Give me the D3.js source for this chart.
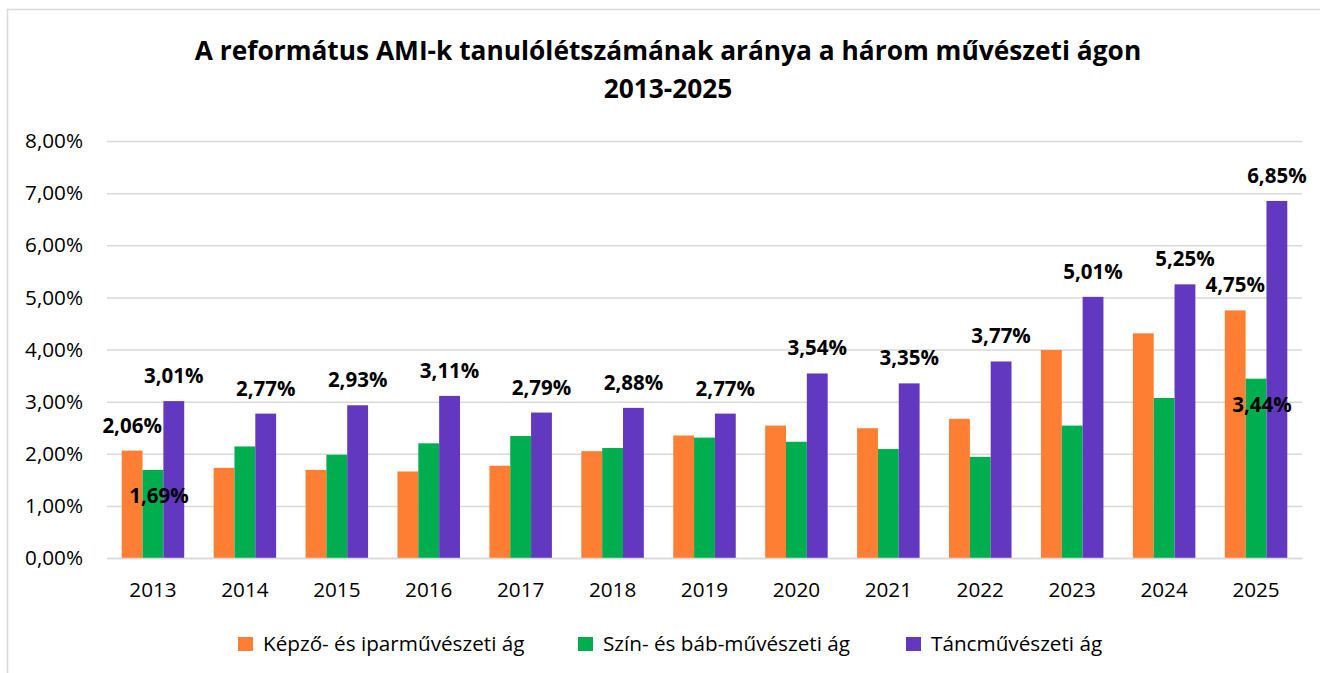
<!DOCTYPE html>
<html>
<head>
<meta charset="utf-8">
<script src="https://cdn.jsdelivr.net/npm/d3@7"></script>
<style>
  body { margin: 0; background: #fff; }
  svg { display: block; font-family: "Open Sans", sans-serif; }
</style>
</head>
<body>
<svg id="chart" width="1320" height="673"></svg>
<script>
// chart data
const years = ['2013', '2014', '2015', '2016', '2017', '2018', '2019', '2020', '2021', '2022', '2023', '2024', '2025'];
const kepzo = [2.06, 1.73, 1.69, 1.66, 1.77, 2.05, 2.35, 2.54, 2.49, 2.67, 3.99, 4.31, 4.75];
const szin = [1.69, 2.14, 1.98, 2.20, 2.34, 2.11, 2.31, 2.23, 2.09, 1.94, 2.54, 3.07, 3.44];
const tanc = [3.01, 2.77, 2.93, 3.11, 2.79, 2.88, 2.77, 3.54, 3.35, 3.77, 5.01, 5.25, 6.85];
const seriesNames = ['Képző- és iparművészeti ág', 'Szín- és báb-művészeti ág', 'Táncművészeti ág'];
// which years carry a data label in each series
const kepzoLabeled = ['2013', '2025'];
const szinLabeled = ['2013', '2025'];
const tancLabeled = years;
const yTicks = [0, 1, 2, 3, 4, 5, 6, 7, 8];
const titleLines = ['A református AMI-k tanulólétszámának aránya a három művészeti ágon', '2013-2025'];

const colors = ['#fe7f34', '#00ae50', '#6138bf'];
const series = [
  { name: seriesNames[0], values: kepzo, labeled: kepzoLabeled, color: colors[0], inside: false },
  { name: seriesNames[1], values: szin, labeled: szinLabeled, color: colors[1], inside: true },
  { name: seriesNames[2], values: tanc, labeled: tancLabeled, color: colors[2], inside: false },
];

const svg = d3.select('#chart');
const fmt = (v) => v.toFixed(2).replace('.', ',') + '%';

// outer frame
svg.append('rect')
  .attr('x', 7.5).attr('y', 9.5)
  .attr('width', 1340).attr('height', 700)
  .attr('fill', 'none')
  .attr('stroke', '#d9d9d9')
  .attr('stroke-width', 1.5);

// title
svg.append('g').selectAll('text')
  .data(titleLines)
  .enter().append('text')
  .attr('x', 668)
  .attr('y', (d, i) => 60 + i * 38)
  .attr('text-anchor', 'middle')
  .attr('font-size', 26.3)
  .attr('font-weight', 700)
  .attr('fill', '#000')
  .text((d) => d);

const x = d3.scaleBand().domain(years).range([107, 1302]).paddingInner(0.32).paddingOuter(0.16);
const xSub = d3.scaleBand().domain(d3.range(series.length)).range([0, x.bandwidth()]);
const y = d3.scaleLinear().domain([0, 8]).range([558, 141]);

// gridlines + y labels
const yAxis = d3.axisLeft(y)
  .tickValues(yTicks)
  .tickSize(-(1302 - 107))
  .tickPadding(24)
  .tickFormat(fmt);
svg.append('g')
  .attr('transform', 'translate(107,0)')
  .call(yAxis)
  .call((g) => g.select('.domain').remove())
  .call((g) => g.selectAll('.tick line').attr('stroke', '#d9d9d9').attr('stroke-width', 1.5))
  .call((g) => g.selectAll('.tick text')
    .attr('font-size', 20.7)
    .attr('fill', '#000')
    .attr('font-family', '"Open Sans", sans-serif'));

// bars
const groups = svg.append('g').selectAll('g')
  .data(series)
  .enter().append('g')
  .attr('fill', (d) => d.color);

groups.selectAll('rect')
  .data((s, si) => s.values.map((v, i) => ({ year: years[i], v, si })))
  .enter().append('rect')
  .attr('x', (d) => x(d.year) + xSub(d.si))
  .attr('y', (d) => y(d.v))
  .attr('width', xSub.bandwidth())
  .attr('height', (d) => y(0) - y(d.v));

// x axis labels
const xAxis = d3.axisBottom(x).tickSize(0).tickPadding(24);
svg.append('g')
  .attr('transform', 'translate(0,558)')
  .call(xAxis)
  .call((g) => g.select('.domain').attr('stroke', '#d9d9d9').attr('stroke-width', 1.5))
  .call((g) => g.selectAll('.tick text')
    .attr('font-size', 20.7)
    .attr('fill', '#000')
    .attr('font-family', '"Open Sans", sans-serif'));

// data labels
const labels = svg.append('g')
  .attr('font-size', 20.5)
  .attr('font-weight', 700)
  .attr('text-anchor', 'middle')
  .attr('fill', '#000');
series.forEach((s, si) => {
  const pts = s.values
    .map((v, i) => ({ year: years[i], v }))
    .filter((d) => s.labeled.includes(d.year));
  labels.selectAll(null)
    .data(pts)
    .enter().append('text')
    .attr('x', (d) => x(d.year) + xSub(si) + xSub.bandwidth() / 2 + (s.inside ? 6 : 0))
    .attr('y', (d) => s.inside ? y(d.v) + 33 : y(d.v) - 18)
    .text((d) => fmt(d.v));
});

// legend
const legendX = [238, 578, 906];
const legend = svg.append('g').selectAll('g')
  .data(series)
  .enter().append('g')
  .attr('transform', (d, i) => `translate(${legendX[i]},644)`);
legend.append('rect')
  .attr('x', 0).attr('y', -7)
  .attr('width', 15).attr('height', 14)
  .attr('fill', (d) => d.color);
legend.append('text')
  .attr('x', 25)
  .attr('dy', '0.35em')
  .attr('font-size', 20.7)
  .attr('fill', '#000')
  .text((d) => d.name);
</script>
</body>
</html>
